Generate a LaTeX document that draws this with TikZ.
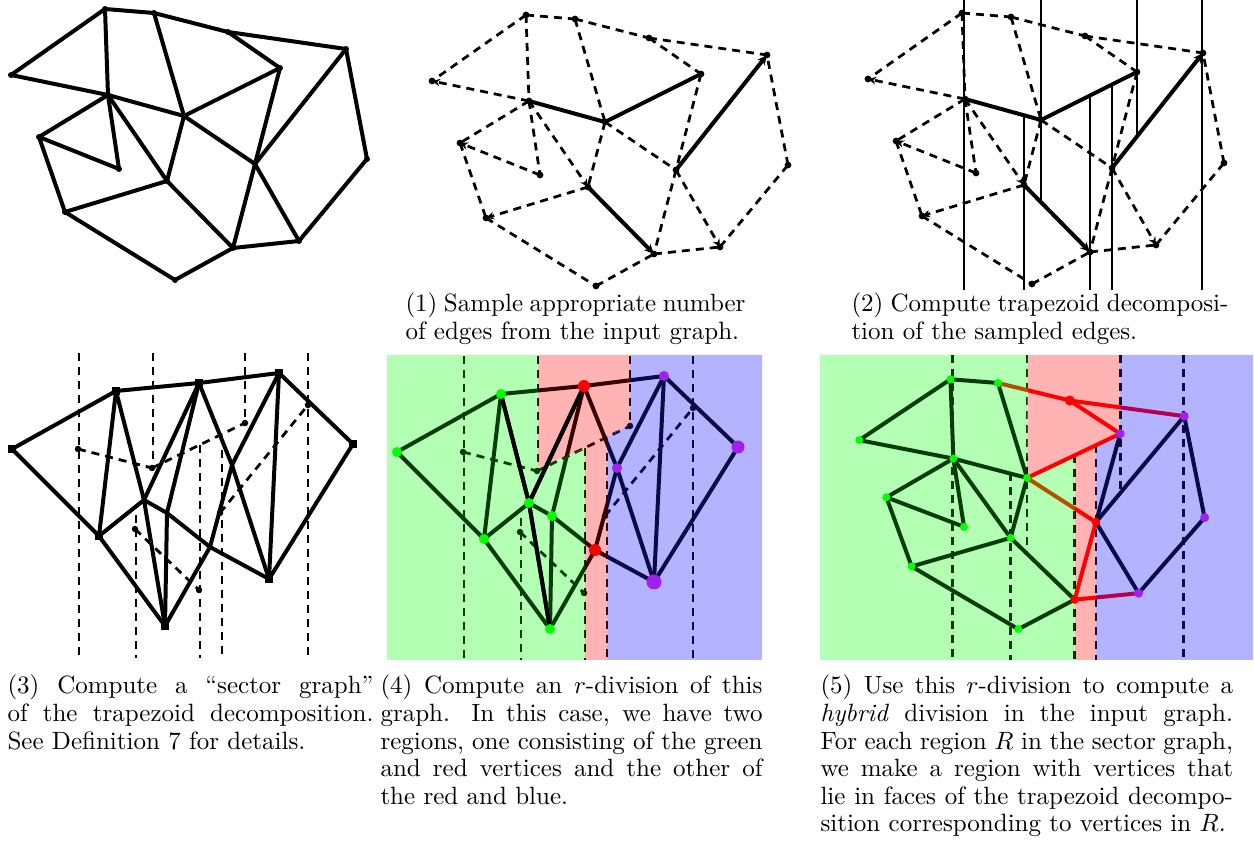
\documentclass[tikz,border=0pt]{standalone}
\usepackage{tikz}
\usetikzlibrary{arrows.meta}
\definecolor{cVGreen}  {HTML}{00FF00}
\definecolor{cVRed}    {HTML}{FF0000}
\definecolor{cVPurple} {HTML}{A020F0}
\definecolor{cBgGreen} {HTML}{B3FFB3}
\definecolor{cBgRed}   {HTML}{FFB3B3}
\definecolor{cBgBlue}  {HTML}{B3B3FF}
\definecolor{cDkGreen} {HTML}{0A3C0A}
\definecolor{cDkRed}   {HTML}{380000}
\definecolor{cNavy}    {HTML}{0A0A46}
\definecolor{cBrown}   {HTML}{B45000}
\definecolor{cMaroon}  {HTML}{B40050}

% input graph: vertex positions and edge lists
\newcommand{\inputcoords}{%
  \foreach \n/\x/\y in {A/105/9, B/154/13, C/228/32, D/346/49, E/280/68, F/11/75,
      G/108/95, H/184/116, I/39/137, J/119/169, K/167/181, L/255/164, M/367/159,
      N/65/212, O/233/248, P/299/241, Q/175/280}
    \coordinate (\n) at (\x,\y);}
\newcommand{\alledges}{A/B, B/C, C/D, C/E, A/F, F/G, A/G, G/H, B/H, H/E, G/I, G/J,
  I/J, G/K, H/K, H/L, E/L, D/L, L/O, L/P, I/N, N/K, K/O, N/Q, Q/O, O/P, P/M, M/D}
\newcommand{\dashedges}{A/B, B/C, C/D, C/E, A/F, A/G, B/H, G/I, G/J, H/K, H/L, E/L,
  L/O, I/N, N/Q, Q/O, O/P, P/M, M/D}
\newcommand{\plainfive}{A/B, A/F, F/G, A/G, G/H, B/H, G/I, G/J, I/J, G/K, H/K, E/L,
  D/L, L/P, I/N, N/K, K/O, N/Q, Q/O, P/M, M/D}
\newcommand{\redfive}{B/C, C/D, C/E, H/L, L/O, O/P}
% vertical walls of the trapezoid decomposition (#1 top, #2 bottom)
\newcommand{\trapwalls}[2]{%
  \draw (107,#1) -- (107,#2);
  \draw (167,111) -- (167,#2);
  \draw (184,#1) -- (184,198);
  \draw (233,91.5) -- (233,#2);
  \draw (255,80.5) -- (255,#2);
  \draw (280,#1) -- (280,132.5);
  \draw (345,#1) -- (345,#2);}

% sector graph
\newcommand{\sectorcoords}{%
  \foreach \n/\x/\y in {s1/12/449, s2/116/391, s3/199/383, s4/279/373, s5/353/444,
      s6/99/536, s7/269/579, s8/165/626, x1/144/500, x2/167/513, x3/232/465,
      x4/210/547, d1/78/449, d2/152/468, d3/245/423, d4/308/405, d5/135/529,
      d6/199/590, d7/220/513}
    \coordinate (\n) at (\x,\y);}
\newcommand{\sectorlines}{%
  \foreach \x/\ya/\yb in {79/353/658, 153/353/470, 136/515/658, 200/445/658,
      222/436/658, 245/353/423, 308/353/658}
    \draw[walldash] (\x,\ya) -- (\x,\yb);
  \foreach \u/\v in {d1/d2, d2/d3, d5/d6, d7/d4}
    \draw[facedash] (\u) -- (\v);
  \foreach \i in {1,...,7}
    \fill (d\i) circle[radius=1.3pt];
  \foreach \u/\v in {s1/s2, s2/s3, s3/s4, s4/s5, s1/s6, s6/s2, s6/x1, x1/s3, x2/s3,
      x1/x2, x2/x4, x2/s8, s6/s8, s8/x4, x4/x3, x3/s4, s3/x3, x3/s7, x4/s7, s4/s7,
      s7/s5, s2/x1, x1/s8}
    \draw[secedge] (\u) -- (\v);}

\tikzset{
  inedge/.style={line width=1.6pt, line cap=round},
  dashedge/.style={line width=1.1pt, dash pattern=on 3.2pt off 2.4pt},
  sampled/.style={line width=1.6pt},
  tipped/.style={-{Stealth[length=3.2pt, width=3pt]}},
  bigtipped/.style={-{Stealth[length=4pt, width=3.6pt]}},
  wallline/.style={line width=1.1pt},
  walldash/.style={line width=1.1pt, dash pattern=on 3.2pt off 2.4pt},
  facedash/.style={line width=1.1pt, dash pattern=on 3.2pt off 2.4pt},
  secedge/.style={line width=1.6pt, line cap=round},
  sqv/.style={rectangle, fill=black, inner sep=0pt, minimum size=3pt},
  gv/.style={circle, fill=cVGreen, inner sep=0pt, minimum size=#1},
  rv/.style={circle, fill=cVRed, inner sep=0pt, minimum size=#1},
  pv/.style={circle, fill=cVPurple, inner sep=0pt, minimum size=#1},
  capt/.style={anchor=north west, inner sep=0pt, align=justify, text width=#1,
    font=\fontsize{10}{11.04}\selectfont},
}
\newcommand{\jline}[1]{\makebox[\hsize][s]{#1}}

\begin{document}
\begin{tikzpicture}[x=0.4pt, y=-0.4pt]
\useasboundingbox (0,0) rectangle (1254,851);

% (0) input graph
\begin{scope}
  \inputcoords
  \foreach \u/\v in \alledges \draw[inedge] (\u) -- (\v);
  \foreach \n in {A,...,Q} \fill (\n) circle[radius=1.2pt];
\end{scope}

% (1) sampled edges
\begin{scope}[shift={(421,6)}]
  \inputcoords
  \foreach \u/\v in \dashedges \draw[dashedge] (\u) -- (\v);
  \foreach \u/\v in {G/F, J/I, K/N, G/K, L/P} \draw[dashedge, tipped] (\u) -- (\v);
  \draw[sampled] (G) -- (H) -- (E);
  \draw[sampled, bigtipped] (L) -- (D);
  \draw[sampled, bigtipped] (K) -- (O);
  \foreach \n in {A,...,Q} \fill (\n) circle[radius=1.35pt];
\end{scope}

% (2) trapezoid decomposition
\begin{scope}[shift={(857,4)}]
  \inputcoords
  \begin{scope}[wallline] \trapwalls{-4}{286} \end{scope}
  \foreach \u/\v in \dashedges \draw[dashedge] (\u) -- (\v);
  \foreach \u/\v in {G/F, J/I, K/N, G/K, L/P} \draw[dashedge, tipped] (\u) -- (\v);
  \draw[sampled] (G) -- (H) -- (E);
  \draw[sampled, bigtipped] (L) -- (D);
  \draw[sampled, bigtipped] (K) -- (O);
  \foreach \n in {A,...,Q} \fill (\n) circle[radius=1.35pt];
\end{scope}

% (3) sector graph
\begin{scope}
  \sectorcoords
  \sectorlines
  \foreach \i in {1,...,8} \node[sqv] (q\i) at (s\i) {};
\end{scope}

% (4) r-division of the sector graph
\begin{scope}[shift={(385,3)}] \sectorcoords \end{scope}
\begin{scope}
  \clip (387,355) -- (538,355) -- (538,468) -- (585,448) -- (585,660) -- (387,660) -- cycle;
  \fill[cBgGreen] (380,350) rectangle (770,670);
  \begin{scope}[shift={(385,3)}, cDkGreen] \sectorlines \end{scope}
\end{scope}
\begin{scope}
  \clip (538,355) -- (630,355) -- (630,425) -- (607,437) -- (607,660) -- (585,660)
    -- (585,448) -- (538,468) -- cycle;
  \fill[cBgRed] (380,350) rectangle (770,670);
  \begin{scope}[shift={(385,3)}, cDkRed] \sectorlines \end{scope}
\end{scope}
\begin{scope}
  \clip (630,355) -- (762,355) -- (762,660) -- (607,660) -- (607,437) -- (630,425) -- cycle;
  \fill[cBgBlue] (380,350) rectangle (770,670);
  \begin{scope}[shift={(385,3)}, cNavy] \sectorlines \end{scope}
\end{scope}
\foreach \u/\v in {s2/x1, x1/s8, s3/x1} \draw[secedge] (\u) -- (\v);
\foreach \n in {s1, s2, s6, s8, x1, x2} \node[gv=4pt] (c-\n) at (\n) {};
\foreach \n in {s3, x4} \node[rv=4.8pt] (c-\n) at (\n) {};
\foreach \n/\r in {s4/4pt, x3/4pt, s5/5.2pt, s7/6pt} \node[pv=\r] (c-\n) at (\n) {};

% (5) hybrid division of the input graph
\begin{scope}[shift={(848.6,371)}, xscale=0.97, yscale=0.922] \inputcoords \end{scope}
\begin{scope}
  \clip (820,355) -- (1028,355) -- (H) -- (1075,454.5) -- (1075,660) -- (820,660) -- cycle;
  \fill[cBgGreen] (815,350) rectangle (1254,670);
  \begin{scope}[shift={(848.6,371)}, xscale=0.97, yscale=0.922, cDkGreen, walldash]
    \trapwalls{-17.4}{313.4}
  \end{scope}
  \foreach \u/\v in \plainfive \draw[inedge, cDkGreen] (\u) -- (\v);
  \foreach \u/\v in \redfive \draw[inedge, cBrown] (\u) -- (\v);
\end{scope}
\begin{scope}
  \clip (1028,355) -- (E |- 0,355) -- (E) -- (1096,444.6) -- (1096,660) -- (1075,660)
    -- (1075,454.5) -- (H) -- cycle;
  \fill[cBgRed] (815,350) rectangle (1254,670);
  \begin{scope}[shift={(848.6,371)}, xscale=0.97, yscale=0.922, cDkRed, walldash]
    \trapwalls{-17.4}{313.4}
  \end{scope}
  \foreach \u/\v in \plainfive \draw[inedge, cDkRed] (\u) -- (\v);
  \foreach \u/\v in \redfive \draw[inedge, cVRed] (\u) -- (\v);
\end{scope}
\begin{scope}
  \clip (E |- 0,355) -- (1253,355) -- (1253,660) -- (1096,660) -- (1096,444.6) -- (E) -- cycle;
  \fill[cBgBlue] (815,350) rectangle (1254,670);
  \begin{scope}[shift={(848.6,371)}, xscale=0.97, yscale=0.922, cNavy, walldash]
    \trapwalls{-17.4}{313.4}
  \end{scope}
  \foreach \u/\v in \plainfive \draw[inedge, cNavy] (\u) -- (\v);
  \foreach \u/\v in \redfive \draw[inedge, cMaroon] (\u) -- (\v);
\end{scope}
\draw[inedge, cVRed] (H) -- (E);
\foreach \n in {A, B, F, G, H, I, J, K, N, Q} \node[gv=3.2pt] (h-\n) at (\n) {};
\foreach \n/\r in {C/4pt, L/3.4pt, O/3.4pt} \node[rv=\r] (h-\n) at (\n) {};
\foreach \n in {D, E, M, P} \node[pv=3.6pt] (h-\n) at (\n) {};

% captions
\node[capt=136pt] (cap1) at (405,291.7)
  {\strut\jline{(1) Sample appropriate number}\\ of edges from the input graph.};
\node[capt=150.8pt] (cap2) at (851,291.7)
  {\strut\jline{(2) Compute trapezoid decomposi-}\\ tion of the sampled edges.};
\node[capt=146.4pt] (cap3) at (7,674)
  {\strut\jline{(3) Compute a ``sector graph''}\\
   \jline{of the trapezoid decomposition.}\\ See Definition 7 for details.};
\node[capt=152.8pt] (cap4) at (380,674)
  {\strut\jline{(4) Compute an $r$-division of this}\\
   \jline{graph.  In this case, we have two}\\
   \jline{regions, one consisting of the green}\\
   \jline{and red vertices and the other of}\\ the red and blue.};
\node[capt=165pt] (cap5) at (820,674)
  {\strut\jline{(5) Use this $r$-division to compute a}\\
   \jline{\emph{hybrid} division in the input graph.}\\
   \jline{For each region $R$ in the sector graph,}\\
   \jline{we make a region with vertices that}\\
   \jline{lie in faces of the trapezoid decompo-}\\
   sition corresponding to vertices in $R$.};
\end{tikzpicture}
\end{document}
